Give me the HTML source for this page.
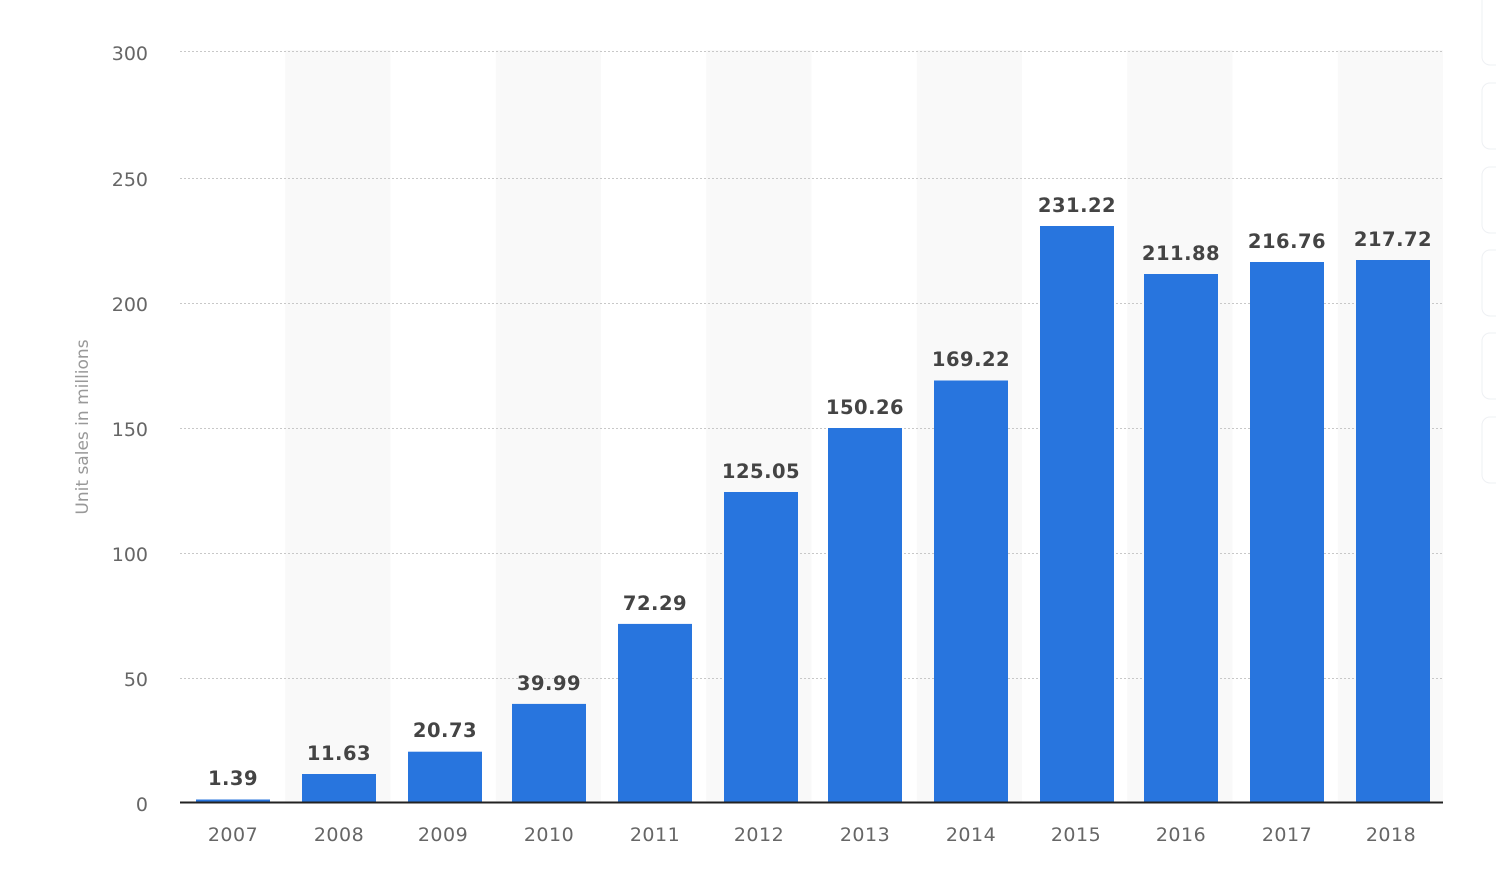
<!DOCTYPE html>
<html><head><style>
html,body{margin:0;padding:0;background:#fff;}
svg{display:block;}
text{font-family:"DejaVu Sans","Liberation Sans",sans-serif;}
</style></head><body>
<svg width="1496" height="896" viewBox="0 0 1496 896">
<rect width="1496" height="896" fill="#fff"/>
<g fill="#f9f9f9">
<rect x="285.25" y="50" width="105.25" height="753"/>
<rect x="495.75" y="50" width="105.25" height="753"/>
<rect x="706.25" y="50" width="105.25" height="753"/>
<rect x="916.75" y="50" width="105.25" height="753"/>
<rect x="1127.25" y="50" width="105.25" height="753"/>
<rect x="1337.75" y="50" width="105.25" height="753"/>
</g>
<g stroke="#c8c8c8" stroke-width="1" stroke-dasharray="2,2">
<line x1="180" x2="1443" y1="51.5" y2="51.5"/>
<line x1="180" x2="1443" y1="178.5" y2="178.5"/>
<line x1="180" x2="1443" y1="303.5" y2="303.5"/>
<line x1="180" x2="1443" y1="428.5" y2="428.5"/>
<line x1="180" x2="1443" y1="553.5" y2="553.5"/>
<line x1="180" x2="1443" y1="678.5" y2="678.5"/>
</g>
<g font-size="19" fill="#666" text-anchor="end">
<text x="148" y="60">300</text>
<text x="148" y="186">250</text>
<text x="148" y="311">200</text>
<text x="148" y="436">150</text>
<text x="148" y="561">100</text>
<text x="148" y="686">50</text>
<text x="148" y="811">0</text>
</g>
<text transform="translate(88,427) rotate(-90)" font-size="17" fill="#999" text-anchor="middle">Unit sales in millions</text>
<g fill="#2875de">
<rect x="196" y="799.5" width="74" height="3.5"/>
<rect x="302" y="774" width="74" height="29"/>
<rect x="408" y="751.7" width="74" height="51.3"/>
<rect x="512" y="703.9" width="74" height="99.1"/>
<rect x="618" y="623.9" width="74" height="179.1"/>
<rect x="724" y="492" width="74" height="311"/>
<rect x="828" y="428" width="74" height="375"/>
<rect x="934" y="380.5" width="74" height="422.5"/>
<rect x="1040" y="226" width="74" height="577"/>
<rect x="1144" y="274" width="74" height="529"/>
<rect x="1250" y="262" width="74" height="541"/>
<rect x="1356" y="260" width="74" height="543"/>
</g>
<line x1="180" x2="1443" y1="802.5" y2="802.5" stroke="#222" stroke-width="2"/>
<g font-size="19.5" font-weight="bold" fill="#444" text-anchor="middle" letter-spacing="0.5">
<text x="233" y="785">1.39</text>
<text x="339" y="760">11.63</text>
<text x="445" y="737">20.73</text>
<text x="549" y="690">39.99</text>
<text x="655" y="610">72.29</text>
<text x="761" y="478">125.05</text>
<text x="865" y="414">150.26</text>
<text x="971" y="366">169.22</text>
<text x="1077" y="212">231.22</text>
<text x="1181" y="260">211.88</text>
<text x="1287" y="248">216.76</text>
<text x="1393" y="246">217.72</text>
</g>
<g font-size="19" fill="#666" text-anchor="middle" letter-spacing="0.5">
<text x="233" y="841">2007</text>
<text x="339" y="841">2008</text>
<text x="443" y="841">2009</text>
<text x="549" y="841">2010</text>
<text x="655" y="841">2011</text>
<text x="759" y="841">2012</text>
<text x="865" y="841">2013</text>
<text x="971" y="841">2014</text>
<text x="1076" y="841">2015</text>
<text x="1181" y="841">2016</text>
<text x="1287" y="841">2017</text>
<text x="1391" y="841">2018</text>
</g>
<g fill="#fff" stroke="#eef0f3" stroke-width="1">
<rect x="1482" y="-10" width="30" height="75" rx="8"/>
<rect x="1482" y="83" width="30" height="66" rx="8"/>
<rect x="1482" y="167" width="30" height="66" rx="8"/>
<rect x="1482" y="250" width="30" height="66" rx="8"/>
<rect x="1482" y="333" width="30" height="66" rx="8"/>
<rect x="1482" y="417" width="30" height="66" rx="8"/>
</g>
</svg>
</body></html>
